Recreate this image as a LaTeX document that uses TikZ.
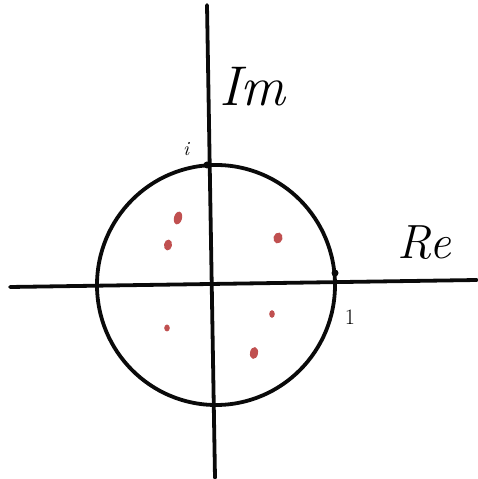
\documentclass[tikz,border=0pt]{standalone}
\usepackage{xcolor}
\usepackage{tikz}
\usetikzlibrary{positioning,calc}
\definecolor{dotRed}{RGB}{192,80,80}
\definecolor{inkpen}{RGB}{10,10,10}

\begin{document}
\begin{tikzpicture}[x=1pt,y=1pt,
    axisline/.style={inkpen,line width=3.8pt,line cap=round},
    polemark/.style={fill=dotRed,draw=none}]
  \useasboundingbox (0,0) rectangle (477,479);
  % ---- axes
  \coordinate (reL) at (10,192);
  \coordinate (reR) at (477,199);
  \coordinate (imT) at (207,474);
  \coordinate (imB) at (215,1);
  \draw[axisline] (reL) -- (reR);
  \draw[axisline] (imT) -- (imB);
  % ---- unit circle
  \coordinate (orig) at (216,194);
  \draw[inkpen,line width=3.8pt] (orig) ellipse[x radius=119,y radius=120];
  \node[circle,fill=inkpen,inner sep=0pt,minimum size=7pt] (ipt) at (207,314) {};
  \node[circle,fill=inkpen,inner sep=0pt,minimum size=7pt] (onept) at (335,206) {};
  % ---- labels
  \node[font=\fontsize{56}{56}\selectfont\itshape] (imlab) at (252,392) {Im};
  \node[font=\fontsize{48}{48}\selectfont\itshape] (relab) at (424,236) {Re};
  \node[font=\fontsize{20}{20}\selectfont\itshape] (ilab) at (186,330) {i};
  \node[font=\fontsize{22}{22}\selectfont] (onelab) at (350,162) {1};
  % ---- red dots
  \foreach \px/\py/\rx/\ry/\rot in {178/261/4/6.5/-15, 168/234/4/5.5/-10,
      278/241/4.5/5.5/-15, 167/151/2.8/3.5/0, 272/165/2.8/3.8/0, 254/126/4/6/-10}
    \fill[polemark,rotate around={\rot:(\px,\py)}] (\px,\py) ellipse[x radius=\rx,y radius=\ry];
\end{tikzpicture}
\end{document}
